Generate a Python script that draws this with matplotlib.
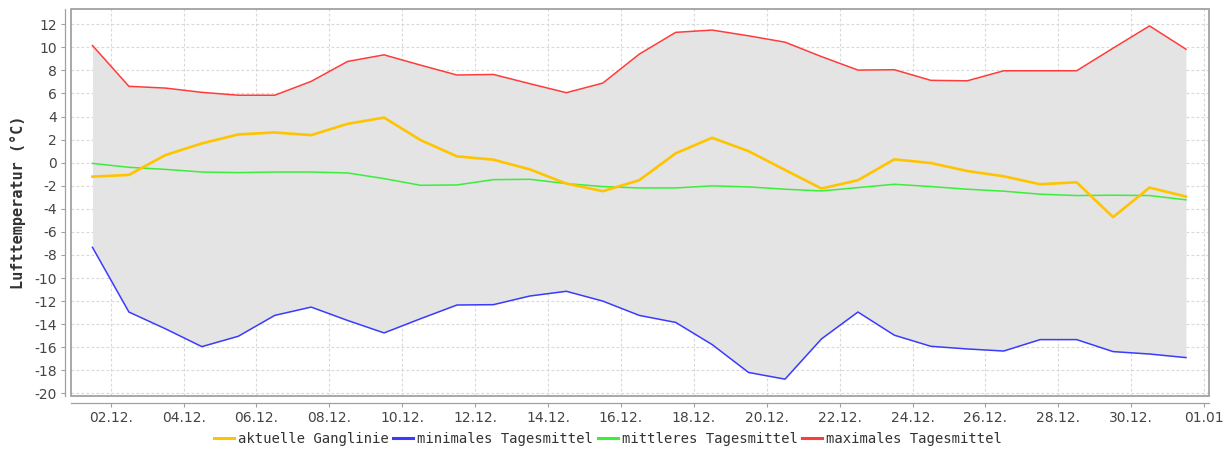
import matplotlib
matplotlib.use("Agg")
import matplotlib.pyplot as plt
from matplotlib.patches import Rectangle

# Day of December (values are daily, plotted at noon)
days = list(range(1, 32))

aktuell = [-1.21, -1.06, 0.66, 1.67, 2.45, 2.62, 2.39, 3.37, 3.91, 1.96,
           0.55, 0.26, -0.58, -1.81, -2.47, -1.52, 0.81, 2.16, 1.0, -0.63,
           -2.24, -1.52, 0.29, -0.03, -0.72, -1.18, -1.87, -1.7, -4.72, -2.16,
           -2.94]
minimal = [-7.34, -12.95, -14.4, -15.95, -15.05, -13.24, -12.52, -13.68, -14.76, -13.53,
           -12.34, -12.31, -11.56, -11.15, -12.0, -13.24, -13.85, -15.77, -18.19, -18.77,
           -15.28, -12.95, -14.96, -15.92, -16.15, -16.33, -15.34, -15.34, -16.38, -16.59,
           -16.9]
mittel = [-0.06, -0.4, -0.58, -0.81, -0.86, -0.81, -0.81, -0.89, -1.38, -1.96,
          -1.93, -1.47, -1.44, -1.81, -2.07, -2.19, -2.19, -2.01, -2.1, -2.3,
          -2.45, -2.16, -1.87, -2.07, -2.3, -2.47, -2.73, -2.85, -2.82, -2.85,
          -3.22]
maximal = [10.16, 6.62, 6.47, 6.1, 5.85, 5.85, 7.05, 8.78, 9.35, 8.46,
           7.6, 7.65, 6.85, 6.07, 6.9, 9.41, 11.3, 11.5, 11.0, 10.45,
           9.2, 8.03, 8.06, 7.14, 7.1, 7.97, 7.97, 7.97, 9.93, 11.86,
           9.84]

xtick_pos = list(range(2, 33, 2))
xtick_labels = ["02.12.", "04.12.", "06.12.", "08.12.", "10.12.", "12.12.",
                "14.12.", "16.12.", "18.12.", "20.12.", "22.12.", "24.12.",
                "26.12.", "28.12.", "30.12.", "01.01"]
ytick_pos = list(range(-20, 13, 2))

names = ["aktuelle Ganglinie", "minimales Tagesmittel",
         "mittleres Tagesmittel", "maximales Tagesmittel"]
colors = ["#FFC400", "#3B3BFF", "#3BEE3B", "#FF3B3B"]

x = [d + 0.5 for d in days]

fig = plt.figure(figsize=(12.32, 4.55), dpi=100)
ax = fig.add_axes([71 / 1232, 1 - 396 / 455, (1209.3 - 71) / 1232, (396 - 9.3) / 455])

ax.fill_between(x, minimal, maximal, color="#E4E4E4", linewidth=0, zorder=1)
l1, = ax.plot(x, aktuell, color=colors[0], lw=1.9, zorder=5, label=names[0])
l2, = ax.plot(x, minimal, color=colors[1], lw=1.1, zorder=3, label=names[1])
l3, = ax.plot(x, mittel, color=colors[2], lw=1.1, zorder=4, label=names[2])
l4, = ax.plot(x, maximal, color=colors[3], lw=1.1, zorder=3, label=names[3])

ax.set_xlim(0.911, 32.14)
ax.set_ylim(-20.23, 13.3)

ax.set_xticks(xtick_pos)
ax.set_xticklabels(xtick_labels)
ax.set_yticks(ytick_pos)
ax.set_yticklabels([str(v) for v in ytick_pos])

ax.grid(True, color="#D8D8D8", linestyle=(0, (2.5, 2)), linewidth=0.8, zorder=0)
ax.set_axisbelow(True)

for s in ["top", "right"]:
    ax.spines[s].set_visible(False)
ax.spines["left"].set_position(("outward", 4))
ax.spines["bottom"].set_position(("outward", 5))
for s in ["left", "bottom"]:
    ax.spines[s].set_color("#A0A0A0")
    ax.spines[s].set_linewidth(0.9)

ax.add_patch(Rectangle((0, 0), 1, 1, transform=ax.transAxes, fill=False,
                       edgecolor="#9A9A9A", linewidth=1.2, clip_on=False, zorder=6))

ax.tick_params(axis="both", colors="#A0A0A0", labelcolor="#444444",
               labelsize=10, length=3, width=0.8, pad=3)
for lab in ax.get_xticklabels() + ax.get_yticklabels():
    lab.set_family("DejaVu Sans")

ax.set_ylabel("Lufttemperatur (°C)", family="DejaVu Sans Mono", fontweight="bold",
              fontsize=11, color="#333333", labelpad=6)

leg = fig.legend(handles=[l1, l2, l3, l4], labels=names, loc="center",
                 bbox_to_anchor=(608 / 1232, 1 - 439 / 455), ncol=4, frameon=False,
                 prop={"family": "DejaVu Sans Mono", "size": 10},
                 handlelength=1.45, handletextpad=0.3, columnspacing=0.3,
                 borderpad=0.1, labelcolor="#333333")
for h in leg.legend_handles:
    h.set_linewidth(2.2)

fig.savefig("out.png", dpi=100)
